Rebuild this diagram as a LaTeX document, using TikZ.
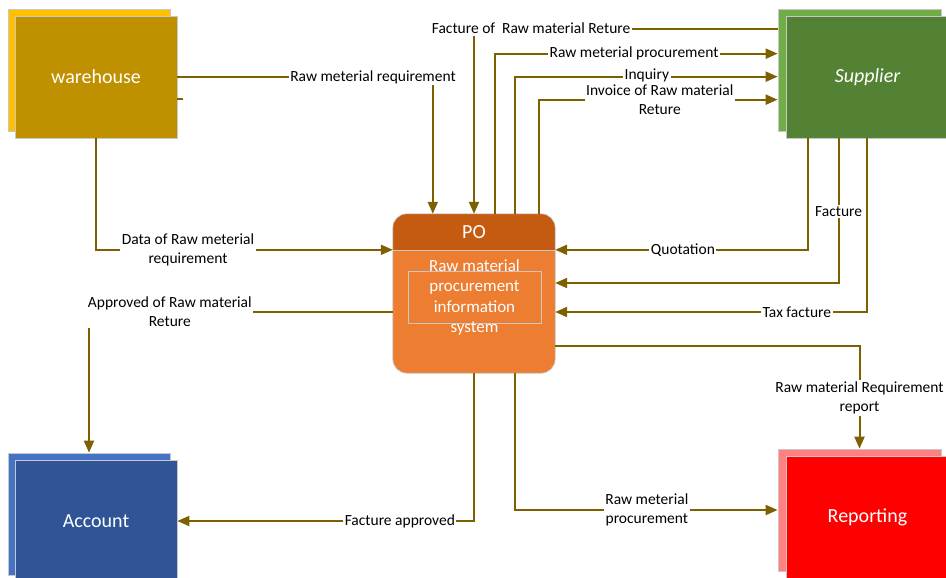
\documentclass[tikz,border=0pt]{standalone}
\usepackage{fontspec}
\setmainfont{Carlito}
\usetikzlibrary{calc,arrows.meta}

\definecolor{flowc}{HTML}{7F6000}
\definecolor{edgec}{HTML}{C8C8C8}
\definecolor{whback}{HTML}{FFC000}
\definecolor{whfront}{HTML}{BF9000}
\definecolor{supback}{HTML}{70AD47}
\definecolor{supfront}{HTML}{548235}
\definecolor{acback}{HTML}{4472C4}
\definecolor{acfront}{HTML}{2F5597}
\definecolor{repback}{HTML}{FF8080}
\definecolor{repfront}{HTML}{FF0000}
\definecolor{pohead}{HTML}{C55A11}
\definecolor{pobody}{HTML}{ED7D31}

\tikzset{
  ent/.style={rectangle, draw=edgec, line width=0.7pt, minimum width=162pt,
    minimum height=122pt, inner sep=0pt, text=white,
    font=\fontsize{20}{24}\selectfont},
  flow/.style={draw=flowc, line width=2pt, -{Triangle[length=12pt,width=10pt]}},
  plain/.style={draw=flowc, line width=2pt},
  lbl/.style={fill=white, inner sep=1.5pt, text=black,
    font=\fontsize{15.5}{19.5}\selectfont, align=center},
}

\begin{document}
\begin{tikzpicture}[x=1pt,y=-1pt]
\useasboundingbox (0,0) rectangle (946,578);

% external entities, each with a shadow copy behind
\node[ent, fill=whback] (whb) at (89,70) {};
\node[ent, fill=whfront] (wh) at (96,77) {warehouse};
\node[ent, fill=supback, minimum width=163pt] (supb) at (859.5,70) {};
\node[ent, fill=supfront, minimum width=163pt] (sup) at (867.5,77) {\itshape Supplier};
\node[ent, fill=acback] (acb) at (89,514) {};
\node[ent, fill=acfront] (ac) at (96,521) {Account};
\node[ent, fill=repback, minimum width=163pt] (repb) at (859.5,510) {};
\node[ent, fill=repfront, minimum width=163pt] (rep) at (867.5,517) {Reporting};

% process box
\node[rectangle, rounded corners=14pt, fill=pobody, minimum width=162pt,
  minimum height=159pt, inner sep=0pt] (po) at (474,293.5) {};
\begin{scope}
  \clip[rounded corners=14pt] (po.north west) rectangle (po.south east);
  \fill[pohead] (po.north west) rectangle ($(po.north east)+(0,37)$);
\end{scope}
\draw[edgec, line width=0.7pt, rounded corners=14pt] (po.north west) rectangle (po.south east);
\draw[edgec, line width=0.7pt] ($(po.north west)+(0,37)$) -- ($(po.north east)+(0,37)$);
\node[text=white, font=\fontsize{20}{24}\selectfont] (potitle) at ($(po.north)+(0,18.5)$) {PO};
\node[draw=edgec, line width=0.7pt, minimum width=133pt, minimum height=52pt,
  inner sep=0pt] (poinner) at (474.5,297) {};
\node[text=white, align=center, font=\fontsize{17}{20.3}\selectfont] (potext)
  at (474.5,297.5) {Raw material\\procurement\\information\\system};

% warehouse flows
\draw[flow] (wh.east) -| ($(po.north west)+(40,0)$)
  node[lbl, pos=0.383] {Raw meterial requirement};
\draw[plain] ($(wh.east)+(0,22)$) -- ($(wh.east)+(6,22)$);
\draw[flow] (wh.south) |- ($(po.north west)+(0,36)$)
  node[lbl, pos=0.655] {Data of Raw meterial\\requirement};

% account flows
\draw[flow] ($(po.west)+(0,18)$) -| (acb.north)
  node[lbl, pos=0.367] {Approved of Raw material\\Reture};
\draw[flow] (po.south) |- (ac.east)
  node[lbl, pos=0.625] {Facture approved};

% reporting flows
\draw[flow] ($(po.south)+(41,0)$) |- (repb.west)
  node[lbl, pos=0.751] {Raw meterial\\procurement};
\draw[flow] ($(po.east)+(0,52)$) -| (repb.north)
  node[lbl, pos=0.754] {Raw material Requirement\\report};

% supplier to process
\draw[flow] ($(sup.south west)+(22,0)$) |- ($(po.north east)+(0,36)$)
  node[lbl, pos=0.747] {Quotation};
\draw[flow] ($(sup.south west)+(53,0)$) |- ($(po.east)+(0,-10.5)$)
  node[lbl, pos=0.252] {Facture};
\draw[flow] ($(sup.south west)+(81,0)$) |- ($(po.east)+(0,18.5)$)
  node[lbl, pos=0.612] {Tax facture};
\draw[flow] ($(supb.north west)+(0,20)$) -| (po.north)
  node[lbl, pos=0.406] {Facture of~ Raw material Reture};

% process to supplier
\draw[flow] ($(po.north)+(21,0)$) |- ($(supb.north west)+(0,45)$)
  node[lbl, pos=0.746] {Raw meterial procurement};
\draw[flow] ($(po.north)+(41,0)$) |- ($(supb.north west)+(0,68)$)
  node[lbl, pos=0.751, yshift=1pt] {Inquiry};
\draw[flow] ($(po.north)+(65,0)$) |- ($(supb.north west)+(0,91)$)
  node[lbl, pos=0.753] {Invoice of Raw material\\Reture};
\end{tikzpicture}
\end{document}
